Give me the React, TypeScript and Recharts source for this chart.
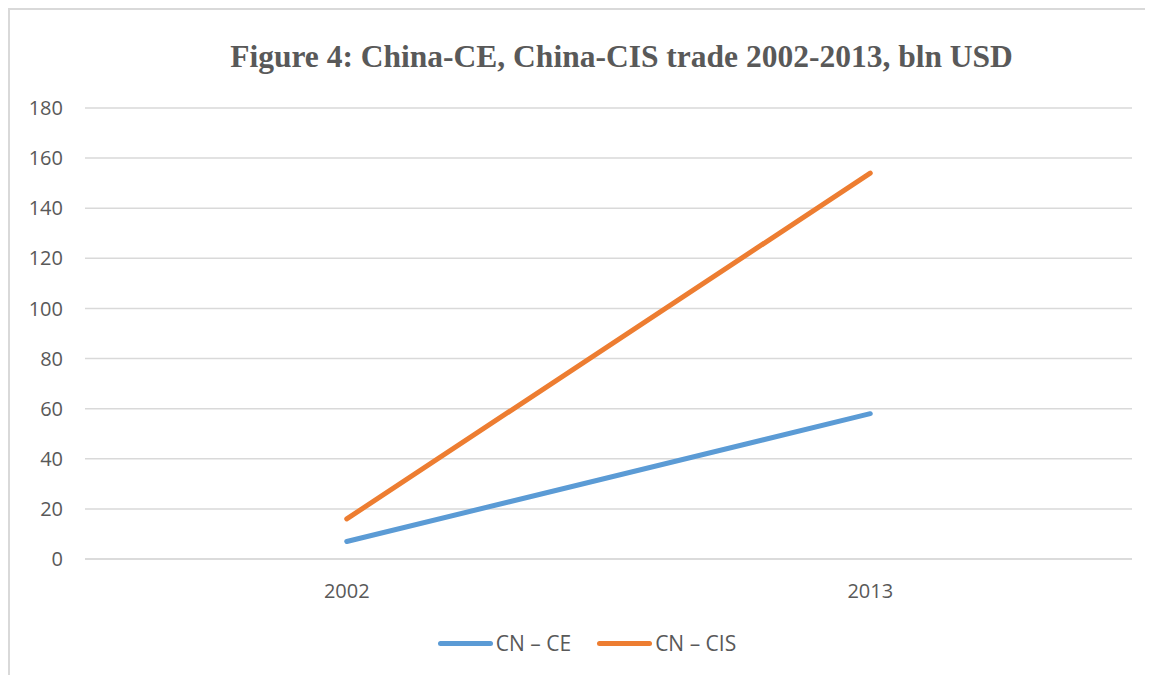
import React from 'react';
import { LineChart, Line, XAxis, YAxis, CartesianGrid, Legend } from 'recharts';

const years = ['2002', '2013'];
const cnCe = [7, 58];
const cnCis = [16, 154];
const yTicks = [0, 20, 40, 60, 80, 100, 120, 140, 160, 180];

const data = years.map((year, i) => ({ year, ce: cnCe[i], cis: cnCis[i] }));

const LegendContent = () => (
    <div style={{ display: 'flex', justifyContent: 'center', gap: 26, paddingTop: 10, paddingLeft: 32, fontFamily: 'Open Sans, sans-serif', fontSize: 21, color: '#595959' }}>
        {[{ label: 'CN – CE', color: '#5b9bd5' }, { label: 'CN – CIS', color: '#ed7d31' }].map(item => (
            <span key={item.label} style={{ display: 'flex', alignItems: 'center' }}>
                <span style={{ display: 'inline-block', width: 55, height: 5, borderRadius: 3, background: item.color, marginRight: 3 }} />
                {item.label}
            </span>
        ))}
    </div>
);

export default function App() {
    return (
        <div style={{ position: 'relative', width: 1143, height: 665, borderLeft: '2px solid #d9d9d9', borderTop: '2px solid #d9d9d9', background: '#fff' }}>
            <div style={{ position: 'absolute', top: 29, left: 80, width: 1063, textAlign: 'center', fontFamily: '"Liberation Serif", serif', fontWeight: 'bold', fontSize: 31.5, color: '#595959' }}>
                Figure 4: China-CE, China-CIS trade 2002-2013, bln USD
            </div>
            <LineChart width={1143} height={665} data={data} margin={{ top: 98, right: 21, left: 0, bottom: 10 }}>
                <CartesianGrid vertical={false} stroke="#d9d9d9" strokeWidth={1.5} />
                <XAxis
                    dataKey="year"
                    scale="band"
                    axisLine={{ stroke: '#d9d9d9', strokeWidth: 1.5 }}
                    tickLine={false}
                    tickMargin={19}
                    height={60}
                    tick={{ fill: '#595959', fontSize: 20, fontFamily: 'Open Sans, sans-serif' }}
                />
                <YAxis
                    domain={[0, 180]}
                    ticks={yTicks}
                    width={75}
                    axisLine={false}
                    tickLine={false}
                    tickMargin={16}
                    tick={{ fill: '#595959', fontSize: 20, fontFamily: 'Open Sans, sans-serif' }}
                />
                <Legend verticalAlign="bottom" height={46} content={<LegendContent />} />
                <Line dataKey="ce" name="CN – CE" stroke="#5b9bd5" strokeWidth={5} dot={false} strokeLinecap="round" isAnimationActive={false} />
                <Line dataKey="cis" name="CN – CIS" stroke="#ed7d31" strokeWidth={5} dot={false} strokeLinecap="round" isAnimationActive={false} />
            </LineChart>
        </div>
    );
}
